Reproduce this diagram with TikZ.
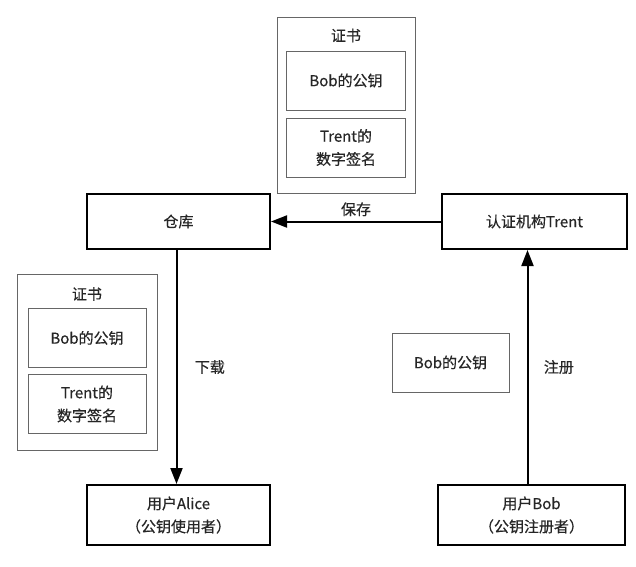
\documentclass[tikz,border=0pt]{standalone}
\usepackage{fontspec}
\setmainfont{Noto Sans CJK SC}[FakeBold=0.5]
\usetikzlibrary{arrows.meta,positioning}

\tikzset{
  mainbox/.style={draw=black, line width=2pt, minimum width=183pt, minimum height=55pt, align=center},
  certbox/.style={draw=black!60, line width=1pt, minimum width=138pt, minimum height=176pt},
  keybox/.style={draw=black!60, line width=1pt, minimum width=119pt, minimum height=59pt, align=center},
  flow/.style={line width=2pt, -{Triangle[length=16pt,width=12pt]}},
}

\begin{document}
\begin{tikzpicture}[x=1pt, y=1pt, font=\fontsize{15}{23}\selectfont, text=black!85]
\useasboundingbox (0,0) rectangle (636,-566);

% top certificate
\node [certbox] (certA) at (346,-105) {};
\node at ([yshift=-19pt]certA.north) (certAtitle) {证书};
\node [keybox, below = 34pt of certA.north] (certAkey) {Bob的公钥};
\node [keybox, below = 7pt of certAkey] (certAsig) {Trent的\\数字签名};

% store and authority
\node [mainbox] (store) at (178.5,-221.5) {仓库};
\node [mainbox, minimum width=185pt, right = 170pt of store] (ca) {认证机构Trent};

% left certificate
\node [certbox, minimum width=140pt] (certB) at (87,-362.5) {};
\node at ([yshift=-20pt]certB.north) (certBtitle) {证书};
\node [keybox, minimum width=118pt, below = 34pt of certB.north] (certBkey) {Bob的公钥};
\node [keybox, minimum width=118pt, below = 6pt of certBkey] (certBsig) {Trent的\\数字签名};

% users
\node [mainbox, minimum height=60pt] (alice) at (178.5,-515) {用户Alice\\（公钥使用者）};
\node [mainbox, minimum width=187pt, minimum height=60pt] (bob) at (531.5,-515) {用户Bob\\（公钥注册者）};

\node [keybox, minimum width=117pt] (bobkey) at (450.5,-362.5) {Bob的公钥};

\draw [flow] (ca) -- node [above, yshift=1pt] (save) {保存} (store);
\draw [flow] ([xshift=-2pt]store.south) -- node [right=14pt] (download) {下载} ([xshift=-2pt]alice.north);
\draw [flow] ([xshift=-4pt]bob.north) -- node [right=12pt] (register) {注册} ([xshift=-4pt]bob.north |- ca.south);
\end{tikzpicture}
\end{document}
